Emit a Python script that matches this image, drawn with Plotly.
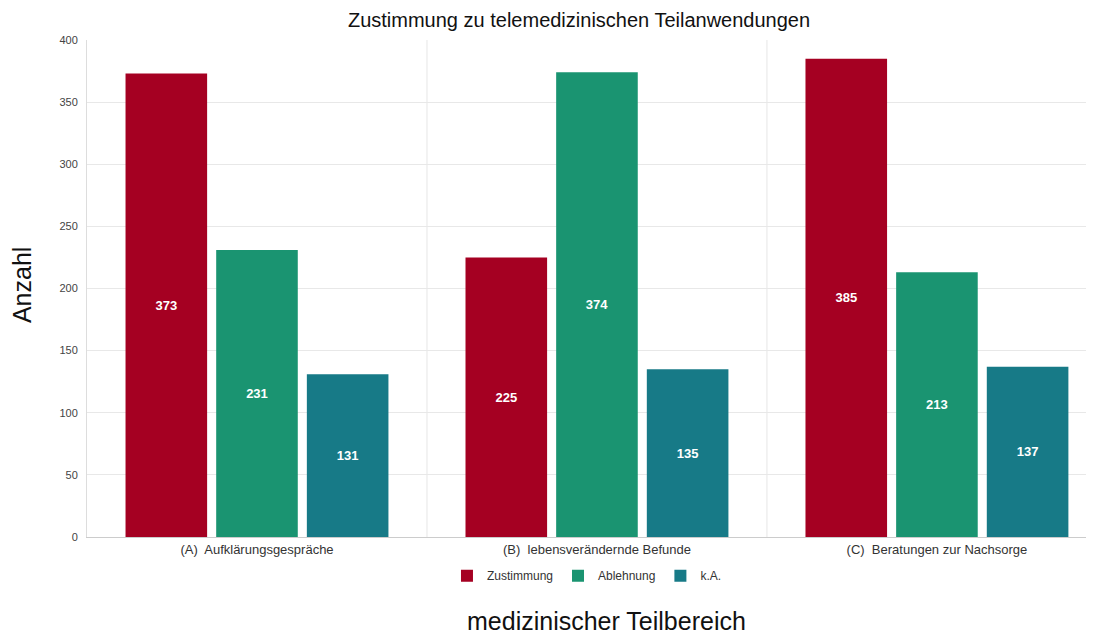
import plotly.graph_objects as go

categories = ["(A)  Aufklärungsgespräche", "(B)  lebensverändernde Befunde", "(C)  Beratungen zur Nachsorge"]
series_names = ["Zustimmung", "Ablehnung", "k.A."]
zustimmung = [373, 225, 385]
ablehnung = [231, 374, 213]
keine_angabe = [131, 135, 137]
colors = ["#a50022", "#1a9471", "#177a87"]
y_ticks = [0, 50, 100, 150, 200, 250, 300, 350, 400]

fig = go.Figure()
for name, vals, col in zip(series_names, [zustimmung, ablehnung, keine_angabe], colors):
    fig.add_trace(go.Bar(
        x=categories, y=vals, name=name,
        marker=dict(color=col, line=dict(width=0)),
        text=["<b>%d</b>" % v for v in vals], textposition="inside", insidetextanchor="middle",
        textfont=dict(color="white", size=13, family="Liberation Sans"),
        textangle=0,
    ))

# vertical category separators
for xv in [0.5, 1.5]:
    fig.add_shape(type="line", xref="x", yref="paper", x0=xv, x1=xv, y0=0, y1=1,
                  line=dict(color="#e6e6e6", width=1), layer="below")

fig.update_layout(
    width=1086, height=631,
    paper_bgcolor="white", plot_bgcolor="white",
    margin=dict(l=79, r=0, t=32, b=102),
    barmode="group", bargap=0.2, bargroupgap=0.1,
    font=dict(family="Liberation Sans", color="#333333"),
    title=dict(text="Zustimmung zu telemedizinischen Teilanwendungen", xref="container", x=0.5258,
               xanchor="center", yref="container", y=0.981, yanchor="middle",
               font=dict(size=20, color="#111111", family="Liberation Sans")),
    showlegend=True,
    legend=dict(orientation="h", x=0.4965, xanchor="center", y=-0.078, yanchor="middle",
                font=dict(size=12, color="#333333"), itemwidth=30, traceorder="normal"),
    xaxis=dict(range=[-0.5, 2.462], showgrid=False, showline=True, linecolor="#cccccc",
               ticks="", tickfont=dict(size=13, color="#333333"), fixedrange=True),
    yaxis=dict(range=[0, 400], tickvals=y_ticks, showgrid=True, gridcolor="#e8e8e8",
               showline=True, linecolor="#dddddd", zeroline=False,
               tickfont=dict(size=11, color="#444444"), ticks="", ticklabelstandoff=6),
    annotations=[
        dict(text="Anzahl", xref="paper", yref="paper", x=-0.0645, y=0.507, textangle=-90,
             showarrow=False, font=dict(size=25, color="#111111"), xanchor="center", yanchor="middle"),
        dict(text="medizinischer Teilbereich", xref="paper", yref="paper", x=0.516, y=-0.2,
             showarrow=False, font=dict(size=25, color="#111111"), xanchor="center", yanchor="bottom",
             borderpad=0),
    ],
)

fig.write_html("out.html")
